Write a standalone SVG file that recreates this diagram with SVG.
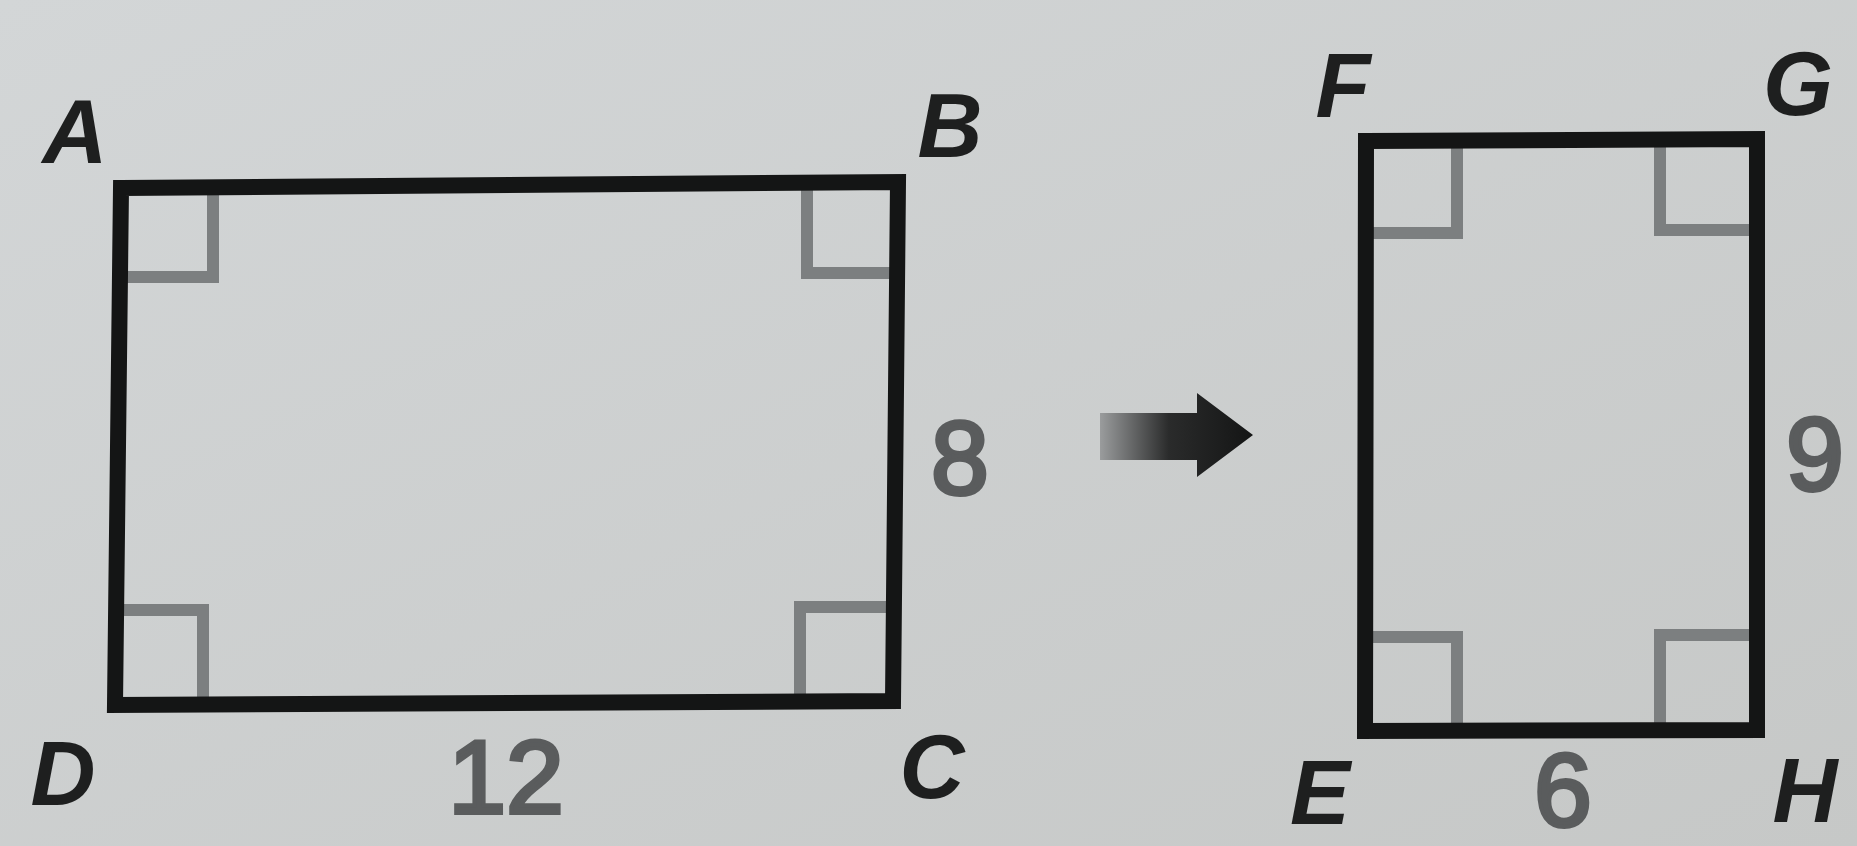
<svg xmlns="http://www.w3.org/2000/svg" width="1857" height="846" viewBox="0 0 1857 846">
<defs>
<linearGradient id="bg" x1="0" y1="0" x2="1" y2="1">
<stop offset="0" stop-color="#d3d6d7"/>
<stop offset="1" stop-color="#c6c8c7"/>
</linearGradient>
<linearGradient id="arrowFill" x1="1100" y1="0" x2="1253" y2="0" gradientUnits="userSpaceOnUse">
<stop offset="0" stop-color="#9a9c9d"/>
<stop offset="0.45" stop-color="#2a2b2b"/>
<stop offset="1" stop-color="#141515"/>
</linearGradient>
<style>
.edge{fill:none;stroke:#141515;stroke-width:16;stroke-linejoin:miter}
.mark{fill:none;stroke:#7c7f80;stroke-width:12;stroke-linejoin:miter}
.lbl{font-family:"Liberation Sans",Arial,sans-serif;font-style:italic;font-weight:bold;font-size:90px;fill:#1e1f1f;text-anchor:middle}
.num{font-family:"Liberation Sans",Arial,sans-serif;font-weight:normal;font-size:104px;fill:#5a5c5d;stroke:#5a5c5d;stroke-width:4;text-anchor:middle}
</style>
</defs>
<rect x="0" y="0" width="1857" height="846" fill="url(#bg)"/>

<g id="rect-ABCD">
<path class="mark" d="M121,277 L213,277 L213,188"/>
<path class="mark" d="M807,182 L807,273 L898,273"/>
<path class="mark" d="M115,610 L203,610 L203,705"/>
<path class="mark" d="M800,701 L800,607 L893,607"/>
<polygon class="edge" points="121,188 898,182 893,701 115,705"/>
<text class="lbl" x="75" y="163">A</text>
<text class="lbl" x="950" y="157">B</text>
<text class="lbl" x="932" y="798">C</text>
<text class="lbl" x="63" y="805">D</text>
<text class="num" x="960" y="494">8</text>
<text class="num" x="506" y="813">12</text>
</g>

<g id="rect-EFGH">
<path class="mark" d="M1366,233 L1457,233 L1457,141"/>
<path class="mark" d="M1660,139 L1660,230 L1757,230"/>
<path class="mark" d="M1365,637 L1457,637 L1457,731"/>
<path class="mark" d="M1660,730 L1660,635 L1757,635"/>
<polygon class="edge" points="1366,141 1757,139 1757,730 1365,731"/>
<text class="lbl" x="1343" y="117">F</text>
<text class="lbl" x="1798" y="115">G</text>
<text class="lbl" x="1320" y="824">E</text>
<text class="lbl" x="1805" y="822">H</text>
<text class="num" x="1815" y="490">9</text>
<text class="num" x="1563" y="826">6</text>
</g>

<g id="connectors">
<polygon fill="url(#arrowFill)" points="1100,413 1197,413 1197,393 1253,435 1197,477 1197,460 1100,460"/>
</g>
</svg>
